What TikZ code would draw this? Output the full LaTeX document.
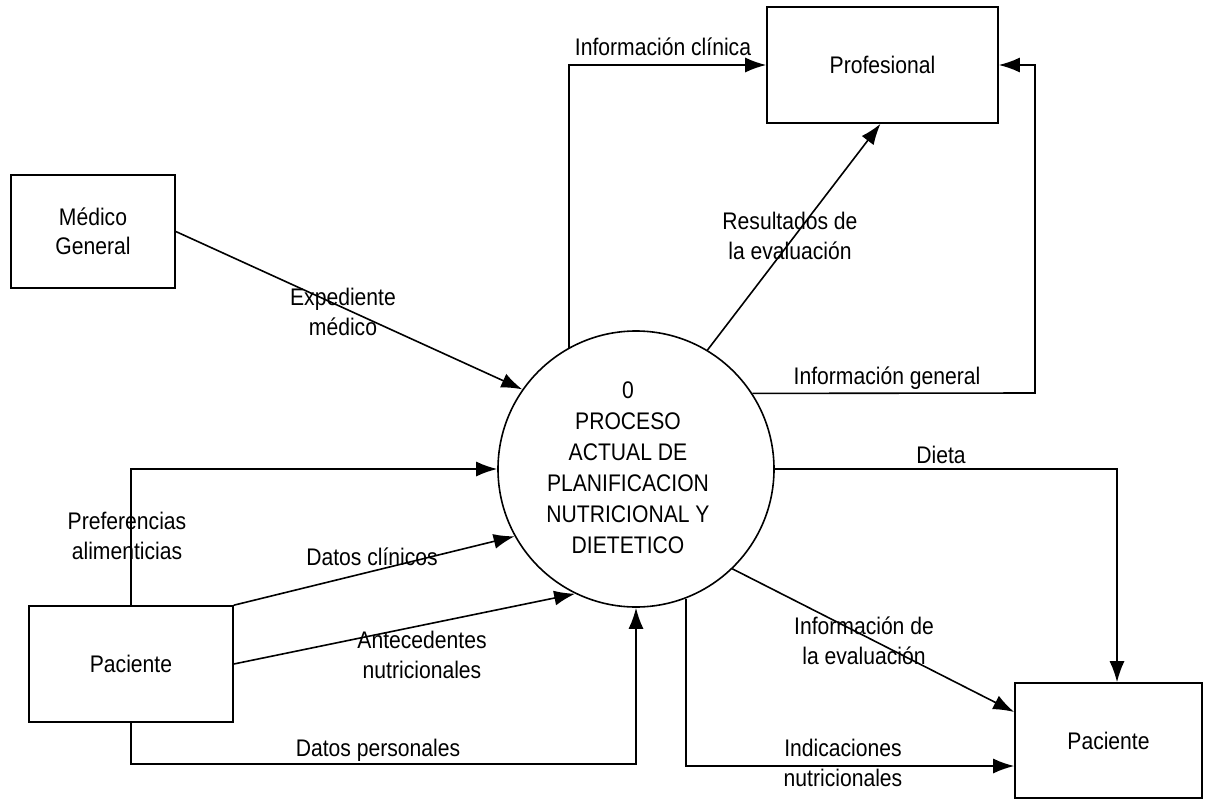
\documentclass[tikz,border=0pt]{standalone}
\usepackage{fontspec}
\setmainfont{Liberation Sans}[FakeStretch=0.88]
\usetikzlibrary{arrows.meta}
\newcommand{\dfdfont}{\fontsize{24}{29.5}\selectfont}
\begin{document}
\begin{tikzpicture}[x=1pt,y=-1pt,
  box/.style={draw,line width=1.6pt,rectangle,inner sep=0pt,font=\dfdfont,align=center},
  flow/.style={line width=1.6pt,-{Latex[length=21pt,width=15pt]}},
  lbl/.style={font=\dfdfont,align=center,inner sep=0pt}]
\useasboundingbox (0,0) rectangle (1212,800);

% entities
\node[box,minimum width=231pt,minimum height=116pt] (prof) at (882.5,65) {Profesional};
\node[box,minimum width=164pt,minimum height=113pt] (med) at (93,231.5) {Médico\\General};
\node[box,minimum width=204pt,minimum height=116pt] (pacL) at (131,664) {Paciente};
\node[box,minimum width=187pt,minimum height=115pt] (pacR) at (1108.5,740.5) {Paciente};

% process
\node[draw,circle,line width=1.6pt,minimum size=276pt,inner sep=0pt] (proc) at (636,469) {};
\node[lbl,font=\fontsize{24}{31}\selectfont] (proctxt) at (628,468) {0\\PROCESO\\ACTUAL DE\\PLANIFICACION\\NUTRICIONAL Y\\DIETETICO};

% corner coordinates
\coordinate (igc) at (1035,393);
\coordinate (dpc) at (131,764);

% flows
\draw[flow] (proc.119.5) |- (prof.west);
\draw[flow] (proc.59.2) -- ([xshift=-2pt]prof.south);
\draw[flow] (proc.33.4) -- (igc) |- (prof.east);
\draw[flow] (med.east) -- (proc.145.7);
\draw[flow] (pacL.north) |- (proc.west);
\draw[flow] (pacL.north east) -- (proc.209.7);
\draw[flow] (pacL.east) -- (proc.244.2);
\draw[flow] (pacL.south) -- (dpc) -| (proc.south);
\draw[flow] (proc.east) -| ([xshift=8.5pt]pacR.north);
\draw[flow] (proc.-46.2) -- ([yshift=28.5pt]pacR.west);
\draw[flow] (proc.-69.2) |- ([yshift=-25.5pt]pacR.west);

% labels
\node[lbl] (l1) at (663,47) {Información clínica};
\node[lbl] (l2) at (790,236) {Resultados de\\la evaluación};
\node[lbl] (l3) at (887,378) {Información general};
\node[lbl] (l4) at (343,312) {Expediente\\médico};
\node[lbl] (l5) at (127,536) {Preferencias\\alimenticias};
\node[lbl] (l6) at (372,557) {Datos clínicos};
\node[lbl] (l7) at (422,655) {Antecedentes\\nutricionales};
\node[lbl] (l8) at (378,750) {Datos personales};
\node[lbl] (l9) at (941,455) {Dieta};
\node[lbl] (l10) at (864,641) {Información de\\la evaluación};
\node[lbl] (l11) at (843,763) {Indicaciones\\nutricionales};
\end{tikzpicture}
\end{document}
